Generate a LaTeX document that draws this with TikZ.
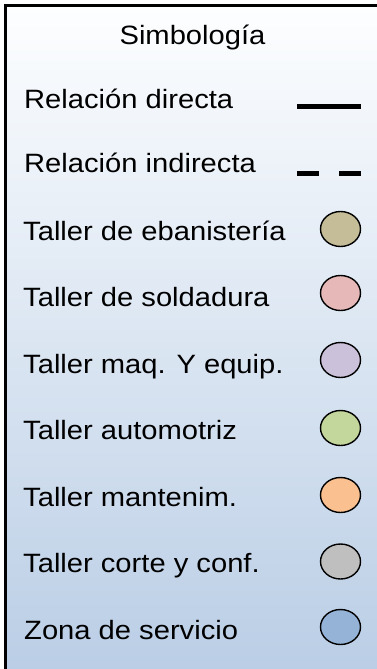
\documentclass[tikz,border=0pt]{standalone}
\usepackage{fontspec}
\setmainfont{Liberation Sans}
\usetikzlibrary{shapes.geometric}
\definecolor{bgbot}{HTML}{B9CDE5}
\definecolor{bgtop}{HTML}{FDFEFF}
\definecolor{cEban}{HTML}{C4BD97}
\definecolor{cSold}{HTML}{E6B9B8}
\definecolor{cMaq}{HTML}{CCC1DA}
\definecolor{cAuto}{HTML}{C3D69B}
\definecolor{cMant}{HTML}{FAC090}
\definecolor{cCorte}{HTML}{BFBFBF}
\definecolor{cZona}{HTML}{95B3D7}
\newcommand{\lbltext}[1]{\scalebox{1.1}[1]{\fontsize{26.5}{30}\selectfont #1}}
\tikzset{
  lbl/.style={inner sep=0pt, anchor=base west},
  dot/.style={ellipse, draw=black, line width=1.4pt, minimum width=40pt, minimum height=35pt, inner sep=0pt},
  relline/.style={line width=5pt}
}
\begin{document}
\begin{tikzpicture}[x=1pt,y=-1pt]
\useasboundingbox (0,0) rectangle (377,669);
\clip (0,0) rectangle (377,669);
\shade[top color=bgtop, bottom color=bgbot] (5.5,5.5) rectangle (390,680);
\draw[line width=3pt] (5.5,690) -- (5.5,5.5) -- (390,5.5);
\node[inner sep=0pt, anchor=base] (title) at (192.5,45) {\lbltext{Simbología}};
\node[lbl] (rd) at (24,108.5) {\lbltext{Relación directa}};
\node[lbl] (ri) at (24,172.5) {\lbltext{Relación indirecta}};
\coordinate (rdA) at (297,106.5);
\coordinate (rdB) at (361,106.5);
\coordinate (riA) at (297,173);
\coordinate (riB) at (361,173);
\draw[relline] (rdA) -- (rdB);
\draw[relline, dash pattern=on 22pt off 20pt] (riA) -- (riB);
\node[lbl] (t1) at (23,240) {\lbltext{Taller de ebanistería}};
\node[lbl] (t2) at (23,306.5) {\lbltext{Taller de soldadura}};
\node[lbl] (t3) at (23,373) {\lbltext{Taller maq. Y equip.}};
\node[lbl] (t4) at (23,439.5) {\lbltext{Taller automotriz}};
\node[lbl] (t5) at (23,506) {\lbltext{Taller mantenim.}};
\node[lbl] (t6) at (23,572.5) {\lbltext{Taller corte y conf.}};
\node[lbl] (t7) at (24,639) {\lbltext{Zona de servicio}};
\node[dot, fill=cEban] (c1) at (340.5,229) {};
\node[dot, fill=cSold] (c2) at (340.5,293) {};
\node[dot, fill=cMaq] (c3) at (340.5,360) {};
\node[dot, fill=cAuto] (c4) at (340.5,428) {};
\node[dot, fill=cMant] (c5) at (340.5,495) {};
\node[dot, fill=cCorte] (c6) at (340.5,561.5) {};
\node[dot, fill=cZona] (c7) at (340.5,627) {};
\end{tikzpicture}
\end{document}
